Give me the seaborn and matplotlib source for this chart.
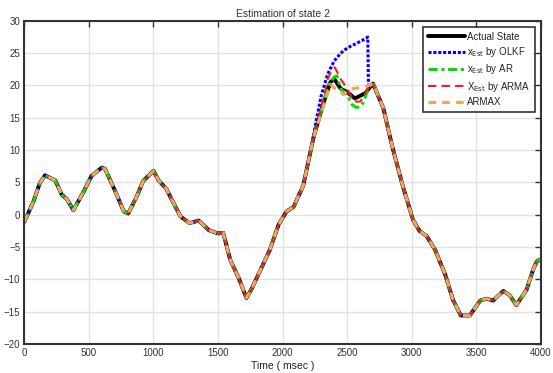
import numpy as np
import pandas as pd
import matplotlib
matplotlib.use('Agg')
import matplotlib.pyplot as plt
import seaborn as sns

# actual state
time_ms = [0, 70, 120, 160, 240, 290, 330, 380, 460, 520, 600, 625, 700, 770, 805, 870, 920,
           1000, 1040, 1100, 1145, 1210, 1280, 1350, 1430, 1500, 1540, 1595, 1660, 1720, 1760,
           1830, 1900, 1970, 2030, 2085, 2160, 2240, 2320, 2370, 2400, 2450, 2500, 2560, 2640,
           2700, 2780, 2850, 2930, 3010, 3060, 3115, 3180, 3260, 3320, 3380, 3450, 3530, 3580,
           3630, 3710, 3760, 3810, 3890, 3940, 3970, 4000]
actual = [-1.1, 2.0, 4.9, 6.1, 5.3, 3.1, 2.4, 0.7, 3.6, 6.0, 7.3, 7.1, 3.8, 0.5, 0.2, 2.8, 5.2,
          6.8, 5.3, 4.0, 2.2, -0.3, -1.3, -0.9, -2.4, -2.9, -2.8, -7.0, -9.8, -12.9, -11.5,
          -8.5, -5.5, -1.5, 0.5, 1.2, 4.5, 12.0, 17.5, 20.5, 21.0, 19.5, 19.0, 18.0, 18.8,
          20.3, 16.5, 10.5, 4.5, -0.8, -2.5, -3.3, -5.4, -9.3, -13.2, -15.6, -15.6, -13.3, -13.0,
          -13.3, -11.8, -12.5, -14.0, -11.6, -8.5, -7.2, -6.9]

# estimators only differ from the actual state around the peak
olkf_t = [2250, 2300, 2350, 2400, 2450, 2500, 2560, 2620, 2660, 2665, 2700]
olkf_v = [13.5, 18.5, 21.8, 23.8, 25.0, 25.8, 26.4, 27.0, 27.5, 20.0, 20.3]
ar_t = [2320, 2350, 2400, 2420, 2450, 2500, 2540, 2570, 2600, 2630, 2660, 2700]
ar_v = [17.5, 20.0, 21.3, 21.5, 19.5, 18.5, 17.0, 16.6, 16.7, 17.5, 19.5, 20.5]
arma_t = [2300, 2350, 2380, 2405, 2450, 2500, 2540, 2570, 2600, 2620, 2660, 2700]
arma_v = [16.5, 21.0, 22.3, 22.8, 21.0, 19.5, 18.0, 17.5, 17.5, 18.0, 19.5, 20.3]
armax_t = [2320, 2370, 2400, 2440, 2470, 2500, 2540, 2580, 2640, 2700]
armax_v = [17.0, 20.2, 19.6, 19.3, 18.6, 19.2, 19.5, 19.6, 19.8, 20.3]


def merge(win_t, win_v):
    keep = [(t, v) for t, v in zip(time_ms, actual) if t < win_t[0] or t > win_t[-1]]
    pts = sorted(keep + list(zip(win_t, win_v)))
    return pd.DataFrame(pts, columns=['t', 'v'])


sns.set_style('white')
plt.rcParams['font.family'] = ['Liberation Sans', 'DejaVu Sans']

fig = plt.figure(figsize=(5.53, 3.73), dpi=100)
ax = fig.add_axes([0.044, 0.078, 0.934, 0.866])

df_act = pd.DataFrame({'t': time_ms, 'v': actual})
sns.lineplot(data=df_act, x='t', y='v', ax=ax, color='black', lw=2.8, label='Actual State')
sns.lineplot(data=merge(olkf_t, olkf_v), x='t', y='v', ax=ax, color='#0000ff', lw=2.2,
             linestyle=(0, (1, 0.6)), label=r'x$_{\rm Est}$ by OLKF')
sns.lineplot(data=merge(ar_t, ar_v), x='t', y='v', ax=ax, color='#00e000', lw=2.2,
             linestyle=(0, (3, 1.2, 1, 1.2)), label=r'x$_{\rm Est}$ by AR')
sns.lineplot(data=merge(arma_t, arma_v), x='t', y='v', ax=ax, color='#ff1a1a', lw=1.5,
             linestyle=(0, (4, 2.5)), label=r'X$_{\rm Est}$ by ARMA')
sns.lineplot(data=merge(armax_t, armax_v), x='t', y='v', ax=ax, color='#f7a35c', lw=2.2,
             linestyle=(0, (2.5, 2)), label='ARMAX')

ax.set_xlim(0, 4000)
ax.set_ylim(-20, 30)
ax.set_xticks(np.arange(0, 4001, 500))
ax.set_yticks(np.arange(-20, 31, 5))
ax.grid(True, color='#e2e2e2', lw=1)
ax.tick_params(direction='in', length=4, width=1, labelsize=7, colors='#333333',
               top=True, right=True, pad=3)
for s in ax.spines.values():
    s.set_color('#333333')
    s.set_linewidth(1.5)

ax.set_title('Estimation of state 2', fontsize=7.5, color='#333333', pad=3)
ax.set_xlabel('Time ( msec )', fontsize=7.5, color='#222222', labelpad=2)
ax.set_ylabel('')

leg = ax.legend(loc='upper right', fontsize=7, frameon=True, fancybox=False,
                handlelength=3.8, handletextpad=0.2, borderpad=0.5, labelspacing=0.35,
                borderaxespad=0.6)
leg.get_frame().set_edgecolor('black')
leg.get_frame().set_linewidth(1.2)

fig.savefig('out.png', dpi=100)
